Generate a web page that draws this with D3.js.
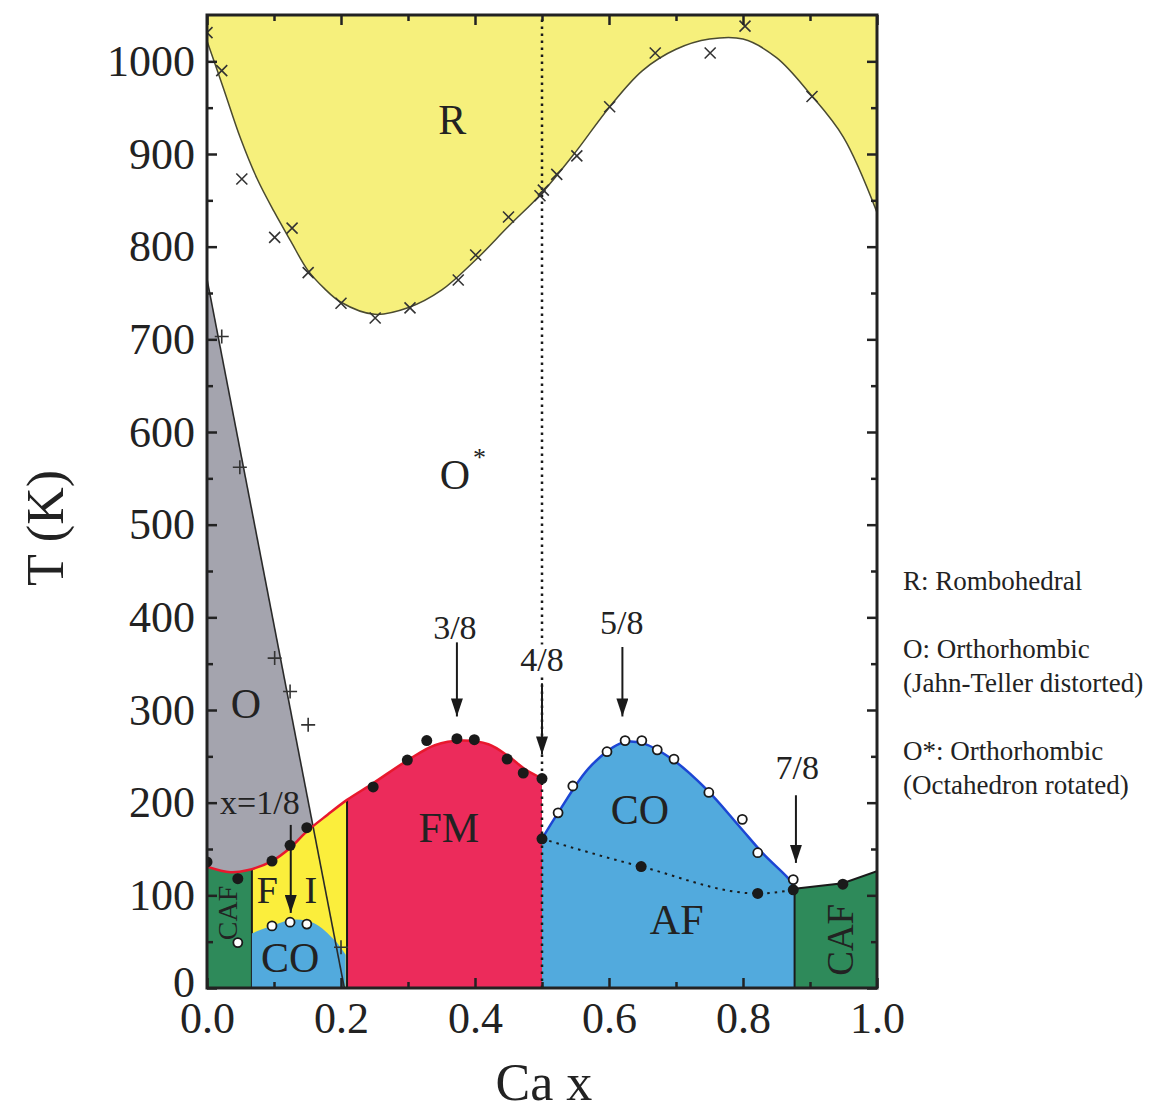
<!DOCTYPE html>
<html>
<head>
<meta charset="utf-8">
<script src="https://cdn.jsdelivr.net/npm/d3@7"></script>
<style>
  body { margin: 0; background: #fff; }
  text { font-family: "Liberation Serif", "Times New Roman", serif; fill: #222; }
</style>
</head>
<body>
<svg id="chart" width="1152" height="1111"></svg>
<script>
// ---- data (Ca x, T in K) ----
// R / O* structural boundary (fitted curve)
const rCurveX = [0, 0.025, 0.05, 0.075, 0.1, 0.125, 0.15, 0.175, 0.2, 0.25, 0.3, 0.35, 0.4, 0.45, 0.5, 0.55, 0.6, 0.65, 0.7, 0.75, 0.8, 0.85, 0.9, 0.95, 1.0]
const rCurveT = [1022, 970, 917, 873, 838, 806, 775, 755, 740, 727, 734, 753, 785, 822, 858, 902, 950, 990, 1013, 1024, 1024, 1004, 965, 918, 837]
// measured R points (x markers)
const rCrossX = [0, 0.022, 0.052, 0.101, 0.127, 0.151, 0.2, 0.251, 0.303, 0.375, 0.401, 0.45, 0.497, 0.502, 0.522, 0.552, 0.601, 0.669, 0.751, 0.803, 0.903]
const rCrossT = [1031, 990, 873, 810, 820, 772, 739, 723, 734, 764, 791, 832, 855, 861, 878, 898, 951, 1009, 1009, 1038, 962]
// O / O* boundary (straight line) and its points (+ markers)
const oLineX = [0, 0.205]
const oLineT = [765, 0]
const oPlusX = [0.022, 0.049, 0.101, 0.124, 0.151, 0.2]
const oPlusT = [703, 562, 356, 320, 284, 44]
// FM / paramagnetic boundary (red)
const fmCurveX = [0, 0.035, 0.06, 0.097, 0.124, 0.149, 0.18, 0.209, 0.248, 0.3, 0.34, 0.38, 0.42, 0.45, 0.475, 0.5]
const fmCurveT = [131, 125, 127, 137, 151, 169, 187, 203, 221, 246, 262, 267, 263, 250, 236, 226]
// vertical phase borders below the FM curve
const bandX = [0, 0.067, 0.209, 0.5]
const bandName = ['CAF', 'FI', 'FM']
// CO dome at low x
const coLeftX = [0.067, 0.1, 0.13, 0.16, 0.19, 0.207]
const coLeftT = [59, 68, 74, 70, 52, 36]
// CO dome at high x (blue)
const coRightX = [0.5, 0.524, 0.572, 0.621, 0.651, 0.696, 0.746, 0.795, 0.83, 0.868, 0.877]
const coRightT = [161, 189, 239, 265, 264, 246, 214, 174, 145, 118, 109]
// AF transition (dotted)
const afX = [0.5, 0.648, 0.822, 0.877]
const afT = [161, 131, 102, 106]
// CAF at high x
const cafRightX = [0.877, 0.949, 1.0]
const cafRightT = [107, 113, 126]
// filled and open symbols
const dotX = [0, 0.046, 0.097, 0.124, 0.149, 0.248, 0.299, 0.328, 0.373, 0.399, 0.448, 0.472, 0.5, 0.5, 0.648, 0.822, 0.875, 0.949]
const dotT = [136, 118, 137, 154, 173, 217, 246, 267, 269, 268, 247, 232, 226, 161, 131, 102, 106, 112]
const openX = [0.046, 0.097, 0.124, 0.149, 0.524, 0.546, 0.597, 0.624, 0.649, 0.672, 0.697, 0.749, 0.799, 0.822, 0.875]
const openT = [49, 67, 71, 69, 189, 218, 255, 267, 267, 257, 247, 211, 182, 146, 117]
// commensurate fillings
const fracLabel = ['x=1/8', '3/8', '4/8', '5/8', '7/8']
const fracX = [0.125, 0.373, 0.5, 0.62, 0.879]
const fracTopT = [176, 373, 329, 368, 208]
const fracTipT = [81, 293, 252, 293, 135]
const fracLabelX = [0.079, 0.37, 0.5, 0.619, 0.881]
const fracLabelT = [200, 389, 354, 394, 238]
// phase names
const phaseText = ['R', 'O', 'FM', 'CO', 'AF', 'CO', 'F', 'I']
const phaseX = [0.366, 0.058, 0.361, 0.646, 0.701, 0.124, 0.09, 0.155]
const phaseT = [937, 306, 173, 192, 73, 32, 106, 106]
const legendLines = ['R: Rombohedral', '', 'O: Orthorhombic', '(Jahn-Teller distorted)', '', 'O*: Orthorhombic', '(Octahedron rotated)']
const xTicks = [0, 0.2, 0.4, 0.6, 0.8, 1.0]
const yTicks = d3.range(0, 1001, 100)

const zip = (xs, ts) => xs.map((v, i) => [v, ts[i]])

const colors = {
    R: '#f6f07c', O: '#a4a4ae', CAF: '#2e8a5a', FI: '#fbee3c', FM: '#ec2b5b', CO: '#52aadd'
}

const svg = d3.select('#chart')
const x = d3.scaleLinear().domain([0, 1]).range([207, 877])
const y = d3.scaleLinear().domain([0, 1050]).range([988, 15])

const defs = svg.append('defs')
defs.append('clipPath').attr('id', 'plot')
    .append('rect')
    .attr('x', x(0)).attr('y', y(1050))
    .attr('width', x(1) - x(0)).attr('height', y(0) - y(1050))

const areaBelow = d3.area()
    .x(d => x(d[0])).y0(y(0)).y1(d => y(d[1]))
    .curve(d3.curveCatmullRom)
const lineCurve = d3.line()
    .x(d => x(d[0])).y(d => y(d[1]))
    .curve(d3.curveCatmullRom)
const lineStraight = d3.line().x(d => x(d[0])).y(d => y(d[1]))

const fmPts = zip(fmCurveX, fmCurveT)
defs.append('clipPath').attr('id', 'under-fm')
    .append('path').attr('d', areaBelow(fmPts))

defs.append('marker')
    .attr('id', 'arrow')
    .attr('viewBox', '0 0 18 12')
    .attr('refX', 18).attr('refY', 6)
    .attr('markerWidth', 18).attr('markerHeight', 12)
    .attr('markerUnits', 'userSpaceOnUse')
    .attr('orient', 'auto')
    .append('path').attr('d', 'M0,0L18,6L0,12Z').attr('fill', '#1a1a1a')

const g = svg.append('g').attr('clip-path', 'url(#plot)')

// R region
const rPts = zip(rCurveX, rCurveT)
g.append('path')
    .attr('d', d3.area().x(d => x(d[0])).y0(y(1050)).y1(d => y(d[1])).curve(d3.curveCatmullRom)(rPts))
    .attr('fill', colors.R)
g.append('path').attr('d', lineCurve(rPts))
    .attr('fill', 'none').attr('stroke', '#4a4a30').attr('stroke-width', 1.5)

// O region (gray wedge)
const oPts = zip(oLineX, oLineT)
g.append('path')
    .attr('d', lineStraight(oPts.concat([[oLineX[0], oLineT[1]]])) + 'Z')
    .attr('fill', colors.O)

// bands below FM curve
const bands = g.append('g').attr('clip-path', 'url(#under-fm)')
bands.selectAll('rect')
    .data(bandName)
    .join('rect')
    .attr('x', (d, i) => x(bandX[i]))
    .attr('width', (d, i) => x(bandX[i + 1]) - x(bandX[i]))
    .attr('y', y(1050)).attr('height', y(0) - y(1050))
    .attr('fill', d => colors[d])
bands.selectAll('line.border')
    .data(bandX.slice(1, 3))
    .join('line')
    .attr('class', 'border')
    .attr('x1', d => x(d)).attr('x2', d => x(d))
    .attr('y1', y(0)).attr('y2', y(1050))
    .attr('stroke', '#1a1a1a').attr('stroke-width', 2)

// CO dome, low x
g.append('path').attr('d', areaBelow(zip(coLeftX, coLeftT))).attr('fill', colors.CO)

// CO / AF, high x
const coPts = zip(coRightX, coRightT)
g.append('path').attr('d', areaBelow(coPts)).attr('fill', colors.CO)
g.append('path')
    .attr('d', d3.area().x(d => x(d[0])).y0(y(0)).y1(d => y(d[1]))(zip(cafRightX, cafRightT)))
    .attr('fill', colors.CAF)

// boundary lines
g.append('path').attr('d', lineStraight(oPts))
    .attr('stroke', '#2a2a2a').attr('stroke-width', 1.6).attr('fill', 'none')
g.append('path').attr('d', lineCurve(fmPts))
    .attr('stroke', '#e8182e').attr('stroke-width', 2.5).attr('fill', 'none')
g.append('path').attr('d', lineCurve(coPts))
    .attr('stroke', '#1c46d4').attr('stroke-width', 2.5).attr('fill', 'none')
g.append('path').attr('d', lineStraight(zip(cafRightX, cafRightT)))
    .attr('stroke', '#1a1a1a').attr('stroke-width', 2).attr('fill', 'none')
g.append('line')
    .attr('x1', x(cafRightX[0])).attr('x2', x(cafRightX[0]))
    .attr('y1', y(0)).attr('y2', y(cafRightT[0]))
    .attr('stroke', '#1a1a1a').attr('stroke-width', 2)
g.append('path')
    .attr('d', d3.line().x(d => x(d[0])).y(d => y(d[1])).curve(d3.curveMonotoneX)(zip(afX, afT)))
    .attr('stroke', '#1a1a1a').attr('stroke-width', 2).attr('fill', 'none')
    .attr('stroke-dasharray', '2.5 5')
// x = 1/2 dotted line
g.append('line')
    .attr('x1', x(0.5)).attr('x2', x(0.5))
    .attr('y1', y(0)).attr('y2', y(1050))
    .attr('stroke', '#1a1a1a').attr('stroke-width', 2.5)
    .attr('stroke-dasharray', '2.5 4.5')

// markers
const cross = 5.5
g.selectAll('path.cross')
    .data(zip(rCrossX, rCrossT))
    .join('path')
    .attr('class', 'cross')
    .attr('d', d => `M${x(d[0]) - cross},${y(d[1]) - cross}L${x(d[0]) + cross},${y(d[1]) + cross}M${x(d[0]) - cross},${y(d[1]) + cross}L${x(d[0]) + cross},${y(d[1]) - cross}`)
    .attr('stroke', '#333').attr('stroke-width', 1.6)
g.selectAll('path.plus')
    .data(zip(oPlusX, oPlusT))
    .join('path')
    .attr('class', 'plus')
    .attr('d', d => `M${x(d[0]) - 7},${y(d[1])}L${x(d[0]) + 7},${y(d[1])}M${x(d[0])},${y(d[1]) - 7}L${x(d[0])},${y(d[1]) + 7}`)
    .attr('stroke', '#333').attr('stroke-width', 1.6)
g.selectAll('circle.dot')
    .data(zip(dotX, dotT))
    .join('circle')
    .attr('class', 'dot')
    .attr('cx', d => x(d[0])).attr('cy', d => y(d[1])).attr('r', 5.5)
    .attr('fill', '#1a1a1a')
g.selectAll('circle.open')
    .data(zip(openX, openT))
    .join('circle')
    .attr('class', 'open')
    .attr('cx', d => x(d[0])).attr('cy', d => y(d[1])).attr('r', 4.5)
    .attr('fill', '#fff').attr('stroke', '#1a1a1a').attr('stroke-width', 1.8)

// arrows for commensurate fillings
svg.selectAll('line.arrow')
    .data(fracX)
    .join('line')
    .attr('class', 'arrow')
    .attr('x1', d => x(d)).attr('x2', d => x(d))
    .attr('y1', (d, i) => y(fracTopT[i])).attr('y2', (d, i) => y(fracTipT[i]))
    .attr('stroke', '#1a1a1a').attr('stroke-width', 2)
    .attr('marker-end', 'url(#arrow)')
const fracG = svg.selectAll('g.frac')
    .data(fracLabel)
    .join('g')
    .attr('class', 'frac')
const fracText = fracG.append('text')
    .attr('x', (d, i) => x(fracLabelX[i])).attr('y', (d, i) => y(fracLabelT[i]))
    .attr('text-anchor', 'middle').attr('dominant-baseline', 'central')
    .attr('font-size', 34)
    .text(d => d)
// white backing so the x = 1/2 dotted line stops behind "4/8"
fracG.filter(d => d === '4/8').insert('rect', 'text')
    .each(function () {
        const b = d3.select(this.parentNode).select('text').node().getBBox()
        d3.select(this).attr('x', b.x).attr('y', b.y + 3)
            .attr('width', b.width).attr('height', b.height - 6)
    })
    .attr('fill', '#fff')

// phase labels
svg.selectAll('text.phase')
    .data(phaseText)
    .join('text')
    .attr('class', 'phase')
    .attr('x', (d, i) => x(phaseX[i])).attr('y', (d, i) => y(phaseT[i]))
    .attr('text-anchor', 'middle').attr('dominant-baseline', 'central')
    .attr('font-size', (d, i) => i >= 6 ? 38 : 42)
    .text(d => d)
const oStar = svg.append('text')
    .attr('x', x(0.382)).attr('y', y(554))
    .attr('text-anchor', 'middle').attr('dominant-baseline', 'central')
    .attr('font-size', 42)
oStar.append('tspan').text('O')
oStar.append('tspan').attr('font-size', 26).attr('dx', 3).attr('dy', -18).text('*')

svg.append('text')
    .attr('transform', `translate(${x(0.031)},${y(81)}) rotate(-90)`)
    .attr('text-anchor', 'middle').attr('dominant-baseline', 'central')
    .attr('font-size', 28).text('CAF')
svg.append('text')
    .attr('transform', `translate(${x(0.946)},${y(52)}) rotate(-90)`)
    .attr('text-anchor', 'middle').attr('dominant-baseline', 'central')
    .attr('font-size', 37).text('CAF')

// axes
const axisStyle = sel => {
    sel.select('.domain').remove()
    sel.selectAll('.tick line').attr('stroke', '#222').attr('stroke-width', 2.5)
    sel.selectAll('text').attr('font-size', 44).attr('fill', '#222')
        .attr('font-family', '"Liberation Serif", "Times New Roman", serif')
}
svg.append('g').attr('transform', `translate(0,${y(0)})`)
    .call(d3.axisBottom(x).tickValues(xTicks).tickSize(-10).tickPadding(14).tickFormat(d3.format('.1f')))
    .call(axisStyle)
svg.append('g').attr('transform', `translate(0,${y(0)})`)
    .call(d3.axisBottom(x).tickValues(d3.range(0.1, 1, 0.2)).tickSize(-6).tickFormat(''))
    .call(axisStyle)
svg.append('g').attr('transform', `translate(0,${y(1050)})`)
    .call(d3.axisTop(x).tickValues(xTicks).tickSize(-10).tickFormat(''))
    .call(axisStyle)
svg.append('g').attr('transform', `translate(0,${y(1050)})`)
    .call(d3.axisTop(x).tickValues(d3.range(0.1, 1, 0.2)).tickSize(-6).tickFormat(''))
    .call(axisStyle)
svg.append('g').attr('transform', `translate(${x(0)},0)`)
    .call(d3.axisLeft(y).tickValues(yTicks).tickSize(-10).tickPadding(12).tickFormat(d3.format('d')))
    .call(axisStyle)
    .call(sel => sel.selectAll('.tick text').filter(d => d === 0).attr('dy', '0.2em'))
svg.append('g').attr('transform', `translate(${x(0)},0)`)
    .call(d3.axisLeft(y).tickValues(d3.range(50, 1050, 100)).tickSize(-6).tickFormat(''))
    .call(axisStyle)
svg.append('g').attr('transform', `translate(${x(1)},0)`)
    .call(d3.axisRight(y).tickValues(yTicks).tickSize(-10).tickFormat(''))
    .call(axisStyle)
svg.append('g').attr('transform', `translate(${x(1)},0)`)
    .call(d3.axisRight(y).tickValues(d3.range(50, 1050, 100)).tickSize(-6).tickFormat(''))
    .call(axisStyle)

svg.append('rect')
    .attr('x', x(0)).attr('y', y(1050))
    .attr('width', x(1) - x(0)).attr('height', y(0) - y(1050))
    .attr('fill', 'none').attr('stroke', '#222').attr('stroke-width', 3)

svg.append('text')
    .attr('x', (x(0) + x(1)) / 2 + 2).attr('y', 1100)
    .attr('text-anchor', 'middle').attr('font-size', 52).text('Ca x')
svg.append('text')
    .attr('transform', `translate(45,528) rotate(-90)`)
    .attr('text-anchor', 'middle').attr('dominant-baseline', 'central')
    .attr('font-size', 52).text('T (K)')

// legend
svg.append('g').selectAll('text')
    .data(legendLines)
    .join('text')
    .attr('x', 903).attr('y', (d, i) => 590 + i * 34)
    .attr('font-size', 27)
    .text(d => d)
</script>
</body>
</html>
